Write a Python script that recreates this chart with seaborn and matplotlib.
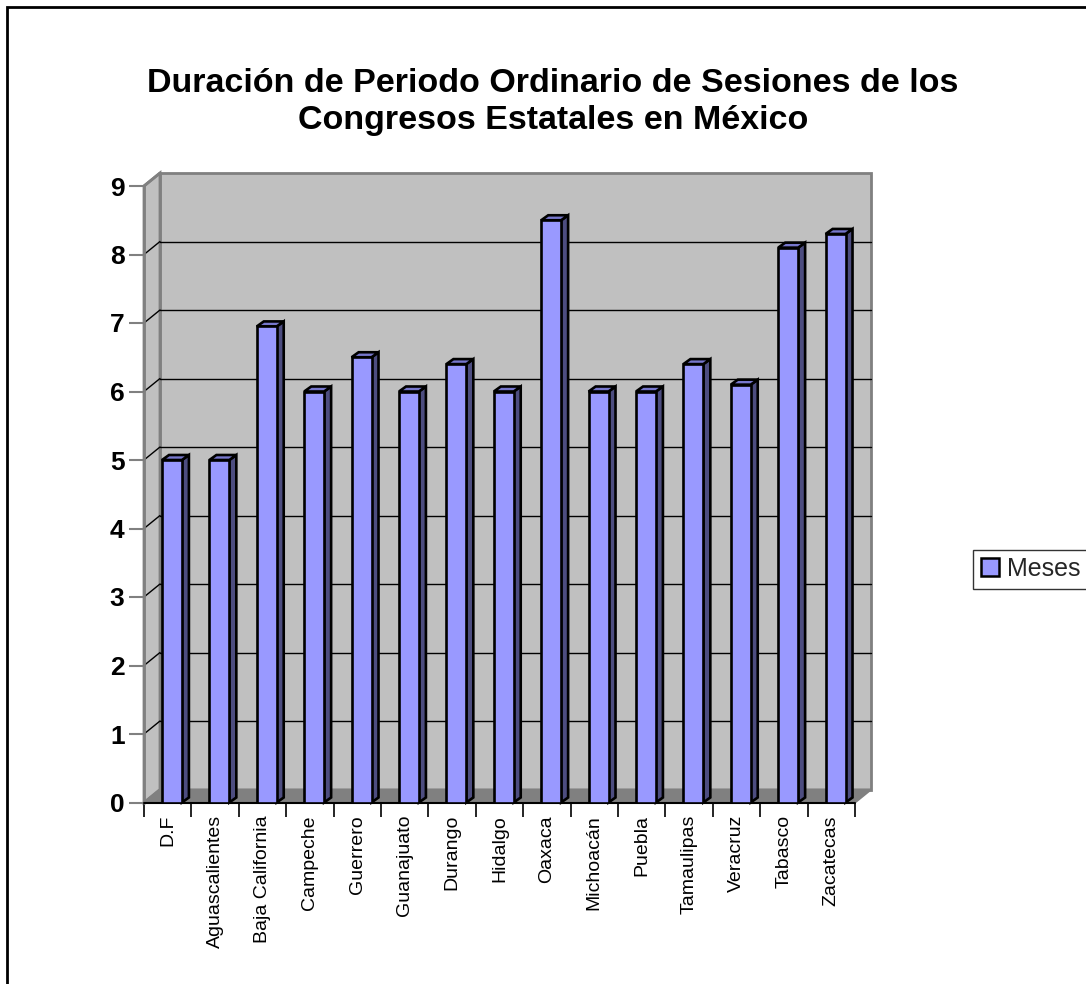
import numpy as np
import pandas as pd
import matplotlib
matplotlib.use("Agg")
import matplotlib.pyplot as plt
from matplotlib.patches import Polygon, Patch, Rectangle
import seaborn as sns

# ---------------- data ----------------
categories = ["D.F", "Aguascalientes", "Baja California", "Campeche", "Guerrero",
              "Guanajuato", "Durango", "Hidalgo", "Oaxaca", "Michoacán", "Puebla",
              "Tamaulipas", "Veracruz", "Tabasco", "Zacatecas"]
meses = [5, 5, 6.95, 6, 6.5, 6, 6.4, 6, 8.5, 6, 6, 6.4, 6.1, 8.1, 8.3]
y_ticks = list(range(0, 10))
series_name = "Meses"
title = "Duración de Periodo Ordinario de Sesiones de los\nCongresos Estatales en México"

sns.set_theme(style="white")
plt.rcParams['font.family'] = ['Liberation Sans', 'DejaVu Sans']

W, H, DPI = 1086, 984, 100
fig = plt.figure(figsize=(W / DPI, H / DPI), dpi=DPI)
fig.patch.set_facecolor("white")

# front plane in pixels
x0, x1 = 144, 855
yb, yt = 802.5, 186
ax = fig.add_axes([x0 / W, 1 - yb / H, (x1 - x0) / W, (yb - yt) / H])
ax.patch.set_visible(False)
for s in ax.spines.values():
    s.set_visible(False)

df = pd.DataFrame({"Estado": categories, series_name: meses})
sns.barplot(data=df, x="Estado", y=series_name, ax=ax, color="#9999FF",
            saturation=1, width=0.42, edgecolor="black", linewidth=1.9, zorder=3)
bars = list(ax.patches)

n = len(categories)
xlim = (-0.59, n - 0.59)
ax.set_xlim(*xlim)
ax.set_ylim(0, 9)

pxx = (x1 - x0) / (xlim[1] - xlim[0])
pxy = (yb - yt) / 9
dX, dY = 16 / pxx, 13 / pxy   # wall depth (data units)
bX, bY = 7 / pxx, 5 / pxy     # bar depth (data units)

L, R = xlim
wall_c = "#C0C0C0"
edge_c = "#808080"
# back wall
ax.add_patch(Polygon([(L + dX, dY), (R + dX, dY), (R + dX, 9 + dY), (L + dX, 9 + dY)],
                     closed=True, fc=wall_c, ec=edge_c, lw=2, clip_on=False, zorder=0))
# left wall
ax.add_patch(Polygon([(L, 0), (L + dX, dY), (L + dX, 9 + dY), (L, 9)],
                     closed=True, fc=wall_c, ec=edge_c, lw=2, clip_on=False, zorder=0))
# floor
ax.add_patch(Polygon([(L, 0), (R, 0), (R + dX, dY), (L + dX, dY)],
                     closed=True, fc="#808080", ec=edge_c, lw=1.5, clip_on=False, zorder=0.5))

# gridlines
for y in y_ticks[1:-1]:
    ax.plot([L + dX, R + dX], [y + dY, y + dY], color="black", lw=1, zorder=1, clip_on=False)
    ax.plot([L, L + dX], [y, y + dY], color="black", lw=1, zorder=1, clip_on=False)

# front axes lines
ax.plot([L, L], [0, 9], color=edge_c, lw=2, zorder=1.5, clip_on=False)
ax.plot([L, L + dX], [9, 9 + dY], color=edge_c, lw=2, zorder=1.5, clip_on=False)
ax.plot([L, R], [0, 0], color="black", lw=1.5, zorder=1.5, clip_on=False)

# 3D faces of bars
for p in bars:
    x, w, h = p.get_x(), p.get_width(), p.get_height()
    ax.add_patch(Polygon([(x + w, 0), (x + w + bX, bY), (x + w + bX, h + bY), (x + w, h)],
                         closed=True, fc="#4D4D80", ec="black", lw=1.9, zorder=2.9, clip_on=False))
    ax.add_patch(Polygon([(x, h), (x + bX, h + bY), (x + w + bX, h + bY), (x + w, h)],
                         closed=True, fc="#7777CC", ec="black", lw=1.9, zorder=2.9, clip_on=False))

# ticks
ax.set_yticks(y_ticks, labels=[str(v) for v in y_ticks], fontweight="bold", fontsize=19)
ax.tick_params(axis="y", left=True, length=11, width=1.5, color=edge_c, pad=3, labelcolor="black")
ax.set_xticks(np.arange(n) - 0.09, labels=categories, rotation=90, fontsize=14)
ax.set_xticks(L + np.arange(n + 1), minor=True)
ax.tick_params(axis="x", which="major", bottom=True, length=0, pad=9, labelcolor="black")
ax.tick_params(axis="x", which="minor", bottom=True, length=10, width=1.2, color="black")
ax.set_xlabel("")
ax.set_ylabel("")

# title
fig.text(553 / W, 1 - 102 / H, title, ha="center", va="center", fontsize=24.5,
         fontweight="bold", linespacing=1.27, color="black")

# legend
leg = fig.legend(handles=[Patch(fc="#9999FF", ec="black", lw=1.8, label=series_name)],
                 loc="center left", bbox_to_anchor=(973 / W, 1 - 569 / H),
                 frameon=True, fancybox=False, edgecolor="black", fontsize=18,
                 handlelength=0.75, handleheight=0.75, handletextpad=0.3,
                 borderpad=0.3, borderaxespad=0)
leg.get_frame().set_linewidth(1)

# chart border
fig.add_artist(Rectangle((7 / W, -0.1), 1.2, 1 - 7 / H + 0.1, transform=fig.transFigure,
                         fill=False, ec="black", lw=2))

fig.savefig("out.png", dpi=DPI)
